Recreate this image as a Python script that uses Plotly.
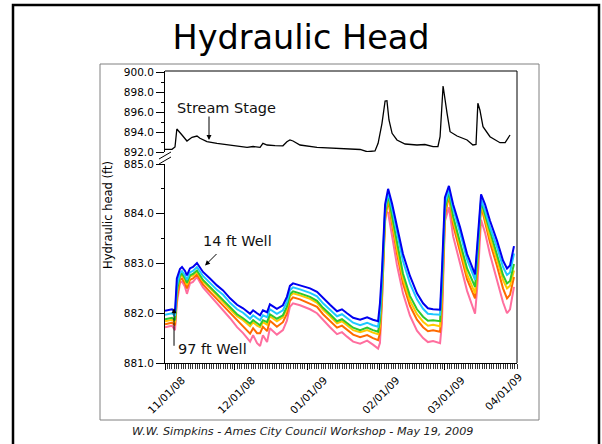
import plotly.graph_objects as go

# ---------------- data ----------------
well_dates = [
    "2008-11-01 00:00", "2008-11-04 00:00", "2008-11-05 07:00", "2008-11-06 02:00", "2008-11-07 10:00",
    "2008-11-08 07:00", "2008-11-09 14:00", "2008-11-10 10:00", "2008-11-11 17:00", "2008-11-13 00:00",
    "2008-11-14 17:00", "2008-11-17 07:00", "2008-11-20 07:00", "2008-11-23 07:00", "2008-11-25 22:00",
    "2008-11-28 22:00", "2008-12-01 22:00", "2008-12-04 12:00", "2008-12-07 12:00", "2008-12-08 19:00",
    "2008-12-10 12:00", "2008-12-11 19:00", "2008-12-13 00:00", "2008-12-14 19:00", "2008-12-16 00:00",
    "2008-12-17 07:00", "2008-12-19 00:00", "2008-12-21 14:00", "2008-12-23 07:00", "2008-12-24 14:00",
    "2008-12-25 22:00", "2008-12-28 22:00", "2009-01-02 05:00", "2009-01-05 05:00", "2009-01-07 19:00",
    "2009-01-10 19:00", "2009-01-13 19:00", "2009-01-15 22:00", "2009-01-18 02:00", "2009-01-20 17:00",
    "2009-01-23 17:00", "2009-01-26 17:00", "2009-01-29 05:00", "2009-01-31 10:00", "2009-02-01 05:00",
    "2009-02-02 02:00", "2009-02-03 10:00", "2009-02-04 17:00", "2009-02-06 10:00", "2009-02-08 12:00",
    "2009-02-11 02:00", "2009-02-14 02:00", "2009-02-17 02:00", "2009-02-19 17:00", "2009-02-21 19:00",
    "2009-02-24 00:00", "2009-02-27 00:00", "2009-02-27 19:00", "2009-03-01 02:00", "2009-03-02 19:00",
    "2009-03-04 14:00", "2009-03-07 14:00", "2009-03-10 14:00", "2009-03-14 00:00", "2009-03-14 22:00",
    "2009-03-16 14:00", "2009-03-18 07:00", "2009-03-20 10:00", "2009-03-23 10:00", "2009-03-26 00:00",
    "2009-03-27 17:00", "2009-03-29 00:00", "2009-03-30 17:00",
]

well_14ft = [
    882.05, 882.08, 882.03, 882.70, 882.89, 882.93, 882.85, 882.76, 882.90, 882.93,
    883.01, 882.83, 882.70, 882.56, 882.46, 882.30, 882.17, 882.10, 881.99, 882.06,
    882.00, 881.96, 882.06, 882.02, 882.18, 882.14, 882.09, 882.16, 882.33, 882.55,
    882.60, 882.56, 882.50, 882.43, 882.30, 882.17, 882.04, 882.08, 882.00, 881.91,
    881.87, 881.92, 881.87, 881.84, 882.20, 882.86, 884.19, 884.50, 884.20, 883.73,
    883.19, 882.75, 882.40, 882.20, 882.10, 882.08, 882.07, 882.86, 884.33, 884.56,
    884.19, 883.73, 883.19, 882.78, 883.40, 884.39, 884.19, 883.86, 883.46, 883.06,
    882.90, 882.96, 883.35,
]
well_cyan = [
    881.97, 882.00, 881.95, 882.55, 882.81, 882.85, 882.76, 882.67, 882.82, 882.85,
    882.93, 882.75, 882.61, 882.47, 882.37, 882.21, 882.08, 882.01, 881.89, 881.96,
    881.90, 881.86, 881.96, 881.92, 882.08, 882.04, 881.99, 882.06, 882.23, 882.46,
    882.52, 882.48, 882.41, 882.34, 882.20, 882.07, 881.94, 881.98, 881.90, 881.81,
    881.76, 881.81, 881.76, 881.73, 882.00, 882.70, 884.10, 884.43, 884.10, 883.60,
    883.05, 882.60, 882.28, 882.09, 881.99, 881.98, 881.97, 882.70, 884.20, 884.50,
    884.10, 883.62, 883.08, 882.67, 883.20, 884.29, 884.07, 883.73, 883.33, 882.93,
    882.77, 882.82, 883.20,
]
well_green = [
    881.88, 881.91, 881.86, 882.45, 882.76, 882.80, 882.70, 882.61, 882.76, 882.79,
    882.86, 882.67, 882.53, 882.39, 882.28, 882.12, 881.98, 881.90, 881.79, 881.86,
    881.80, 881.76, 881.86, 881.82, 881.98, 881.94, 881.89, 881.96, 882.13, 882.38,
    882.44, 882.40, 882.33, 882.25, 882.11, 881.98, 881.84, 881.88, 881.80, 881.71,
    881.66, 881.71, 881.66, 881.63, 881.85, 882.55, 884.00, 884.39, 883.95, 883.40,
    882.80, 882.35, 882.08, 881.93, 881.85, 881.86, 881.84, 882.50, 884.10, 884.44,
    883.95, 883.42, 882.90, 882.53, 883.05, 884.25, 883.98, 883.60, 883.17, 882.77,
    882.60, 882.65, 882.99,
]
well_yellow = [
    881.84, 881.87, 881.82, 882.40, 882.73, 882.77, 882.67, 882.57, 882.73, 882.76,
    882.83, 882.64, 882.50, 882.35, 882.24, 882.08, 881.94, 881.86, 881.74, 881.82,
    881.75, 881.72, 881.82, 881.77, 881.94, 881.90, 881.84, 881.92, 882.09, 882.34,
    882.40, 882.36, 882.29, 882.21, 882.07, 881.94, 881.80, 881.84, 881.76, 881.66,
    881.62, 881.66, 881.61, 881.58, 881.75, 882.45, 883.95, 884.35, 883.88, 883.30,
    882.70, 882.25, 881.98, 881.83, 881.75, 881.77, 881.74, 882.30, 884.05, 884.41,
    883.88, 883.32, 882.78, 882.40, 882.95, 884.22, 883.93, 883.52, 883.08, 882.67,
    882.50, 882.55, 882.86,
]
well_orange = [
    881.78, 881.81, 881.76, 882.30, 882.67, 882.70, 882.60, 882.50, 882.67, 882.70,
    882.78, 882.58, 882.43, 882.28, 882.16, 882.00, 881.85, 881.72, 881.59, 881.70,
    881.60, 881.60, 881.73, 881.64, 881.85, 881.80, 881.73, 881.82, 881.99, 882.25,
    882.32, 882.28, 882.20, 882.13, 881.98, 881.85, 881.71, 881.75, 881.67, 881.57,
    881.52, 881.56, 881.50, 881.46, 881.60, 882.30, 883.85, 884.28, 883.78, 883.20,
    882.60, 882.15, 881.87, 881.72, 881.64, 881.66, 881.63, 882.10, 883.95, 884.36,
    883.78, 883.22, 882.68, 882.30, 882.80, 884.16, 883.85, 883.42, 882.95, 882.50,
    882.30, 882.37, 882.73,
]
well_97ft = [
    881.72, 881.75, 881.66, 882.20, 882.61, 882.64, 882.53, 882.39, 882.60, 882.63,
    882.73, 882.52, 882.36, 882.20, 882.08, 881.90, 881.72, 881.60, 881.43, 881.56,
    881.40, 881.34, 881.56, 881.42, 881.70, 881.64, 881.57, 881.66, 881.85, 882.13,
    882.20, 882.16, 882.08, 882.00, 881.86, 881.72, 881.58, 881.62, 881.53, 881.43,
    881.39, 881.45, 881.37, 881.29, 881.40, 882.20, 884.05, 884.02, 883.55, 882.97,
    882.40, 881.95, 881.65, 881.50, 881.42, 881.44, 881.40, 881.80, 883.85, 884.13,
    883.55, 883.02, 882.45, 881.99, 882.50, 883.88, 883.62, 883.18, 882.68, 882.22,
    882.00, 882.08, 882.53,
]

stream_dates = [
    "2008-11-01 00:00", "2008-11-04 00:00", "2008-11-05 07:00", "2008-11-06 02:00", "2008-11-08 07:00",
    "2008-11-10 10:00", "2008-11-12 14:00", "2008-11-14 17:00", "2008-11-16 00:00", "2008-11-19 00:00",
    "2008-11-23 07:00", "2008-11-30 05:00", "2008-12-03 05:00", "2008-12-06 05:00", "2008-12-08 19:00",
    "2008-12-11 19:00", "2008-12-13 00:00", "2008-12-14 19:00", "2008-12-18 05:00", "2008-12-21 14:00",
    "2008-12-23 07:00", "2008-12-24 14:00", "2008-12-25 22:00", "2008-12-28 22:00", "2009-01-05 05:00",
    "2009-01-12 02:00", "2009-01-19 10:00", "2009-01-23 17:00", "2009-01-26 17:00", "2009-01-30 02:00",
    "2009-01-31 10:00", "2009-02-02 02:00", "2009-02-03 10:00", "2009-02-04 05:00", "2009-02-05 02:00",
    "2009-02-06 10:00", "2009-02-08 12:00", "2009-02-12 00:00", "2009-02-17 02:00", "2009-02-20 12:00",
    "2009-02-24 00:00", "2009-02-26 02:00", "2009-02-27 00:00", "2009-02-28 07:00", "2009-03-02 00:00",
    "2009-03-03 07:00", "2009-03-06 07:00", "2009-03-10 14:00", "2009-03-13 02:00", "2009-03-14 10:00",
    "2009-03-15 05:00", "2009-03-16 02:00", "2009-03-17 10:00", "2009-03-20 10:00", "2009-03-24 17:00",
    "2009-03-26 22:00", "2009-03-29 00:00",
]
stream_stage = [
    892.27, 892.27, 892.50, 894.30, 893.70, 893.10, 893.47, 893.60, 893.37, 893.03,
    892.87, 892.67, 892.60, 892.47, 892.55, 892.47, 892.87, 892.70, 892.63, 892.62,
    893.03, 893.20, 893.10, 892.70, 892.47, 892.37, 892.30, 892.25, 892.03, 892.10,
    892.87, 894.87, 897.10, 897.13, 895.20, 893.87, 893.20, 892.80, 892.70, 892.75,
    892.53, 892.55, 893.53, 898.60, 895.87, 894.03, 893.60, 893.20, 892.70, 892.75,
    896.87, 896.20, 894.53, 893.53, 892.93, 892.95, 893.70,
]

upper_ticks = [892, 894, 896, 898, 900]
lower_ticks = [881, 882, 883, 884, 885]
month_ticks = ["2008-11-01", "2008-12-01", "2009-01-01", "2009-02-01", "2009-03-01"]
month_labels = ["11/01/08", "12/01/08", "01/01/09", "02/01/09", "03/01/09"]
last_label = "04/01/09"

# ---------------- figure ----------------
FONT = "DejaVu Sans"
fig = go.Figure()

wells = [
    ("97 ft Well", well_97ft, "#FF6E9E"),
    ("orange", well_orange, "#FF6A00"),
    ("yellow", well_yellow, "#FFC800"),
    ("green", well_green, "#2DC82D"),
    ("cyan", well_cyan, "#1EC8FF"),
    ("14 ft Well", well_14ft, "#0000F0"),
]
for name, vals, col in wells:
    fig.add_trace(go.Scatter(x=well_dates, y=vals, name=name, mode="lines",
                             line=dict(color=col, width=2.0), xaxis="x", yaxis="y"))

fig.add_trace(go.Scatter(x=stream_dates, y=stream_stage, name="Stream Stage", mode="lines",
                         line=dict(color="black", width=1.3), xaxis="x", yaxis="y2"))

axis_common = dict(showline=True, linecolor="black", linewidth=1, showgrid=False, zeroline=False,
                   ticks="outside", tickcolor="black", tickformat=".1f", anchor="x",
                   tickfont=dict(family=FONT, size=10.5, color="black"), automargin=False)

fig.update_layout(
    width=602, height=444,
    margin=dict(l=165, r=85, t=71, b=81),
    paper_bgcolor="white", plot_bgcolor="white",
    showlegend=False,
    font=dict(family=FONT, color="black"),
    title=dict(text="Hydraulic Head", x=0.5, xanchor="center", y=0.9167, yanchor="middle",
               font=dict(family=FONT, size=33.5, color="black")),
    xaxis=dict(type="date", range=["2008-11-01", "2009-04-01"], anchor="y",
               tickmode="array", tickvals=month_ticks, ticktext=month_labels, tickangle=-45,
               ticks="outside", ticklen=6, tickcolor="black", ticklabelshift=17,
               showline=True, linecolor="black", linewidth=1, showgrid=False, zeroline=False,
               minor=dict(tickmode="linear", tick0="2008-11-01", dtick=86400000, ticks="outside",
                          ticklen=5, tickcolor="#333333", showgrid=False),
               tickfont=dict(family=FONT, size=10.5, color="black"), automargin=False),
    yaxis=dict(domain=[0, 0.6815], range=[881, 885], tickmode="array", tickvals=lower_ticks,
               ticklen=8, minor=dict(dtick=0.5, tick0=881, ticks="outside", ticklen=3, tickcolor="black"),
               **axis_common),
    yaxis2=dict(domain=[0.7226, 1.0], range=[892, 900.1], tickmode="array", tickvals=upper_ticks,
                ticklen=8, minor=dict(dtick=1, tick0=892, ticks="outside", ticklen=3, tickcolor="black"),
                **axis_common),
)

def px_x(p):
    return (p - 165) / 352.0

def px_y(p):
    return (363 - p) / 292.0

shapes = [
    # plot frame top & right
    dict(type="line", xref="paper", yref="paper", x0=0, y0=1, x1=1, y1=1, line=dict(color="black", width=1)),
    dict(type="line", xref="paper", yref="paper", x0=1, y0=0, x1=1, y1=1, line=dict(color="black", width=1)),
    # axis break marks
    dict(type="line", xref="paper", yref="paper", x0=px_x(159), y0=px_y(159), x1=px_x(171), y1=px_y(152),
         line=dict(color="black", width=1)),
    dict(type="line", xref="paper", yref="paper", x0=px_x(159), y0=px_y(164), x1=px_x(171), y1=px_y(157),
         line=dict(color="black", width=1)),
    # chart box (grey)
    dict(type="rect", xref="paper", yref="paper", x0=px_x(100), y0=px_y(420), x1=px_x(539), y1=px_y(64),
         line=dict(color="#808080", width=1)),
    # slide border
    dict(type="rect", xref="paper", yref="paper", x0=px_x(13), y0=px_y(452), x1=px_x(599), y1=px_y(5),
         line=dict(color="black", width=2.5)),
]
fig.update_layout(shapes=shapes)

ann_font = dict(family=FONT, size=14.5, color="#111111")
arrow = dict(showarrow=True, arrowhead=2, arrowsize=1, arrowwidth=1, arrowcolor="black")
annotations = [
    dict(text="Hydraulic head (ft)", xref="paper", yref="paper", x=px_x(108), y=px_y(215),
         xanchor="center", yanchor="middle", textangle=-90, showarrow=False,
         font=dict(family=FONT, size=11.5, color="black")),
    dict(text="<i>W.W. Simpkins - Ames City Council Workshop - May 19, 2009</i>", xref="paper", yref="paper",
         x=px_x(302), y=px_y(431), xanchor="center", yanchor="middle", showarrow=False,
         font=dict(family=FONT, size=11.2, color="#222222")),
    dict(text=last_label, xref="paper", yref="paper", x=px_x(503), y=px_y(392), xanchor="center",
         yanchor="middle", textangle=-45, showarrow=False, font=dict(family=FONT, size=10.5, color="black")),
    # Stream Stage
    dict(text="Stream Stage", xref="x", yref="y2", x="2008-11-27 14:00", y=896.4,
         xanchor="center", yanchor="middle", showarrow=False, font=ann_font),
    dict(text="", xref="x", yref="y2", x="2008-11-19 21:00", y=893.2, ax=0, ay=-25, **arrow),
    # 14 ft Well
    dict(text="14 ft Well", xref="x", yref="y", x="2008-12-01 22:00", y=883.46,
         xanchor="center", yanchor="middle", showarrow=False, font=ann_font),
    dict(text="", xref="x", yref="y", x="2008-11-18 04:00", y=882.96, ax=13, ay=-13, **arrow),
    # 97 ft Well
    dict(text="97 ft Well", xref="x", yref="y", x="2008-11-21 05:00", y=881.28,
         xanchor="center", yanchor="middle", showarrow=False, font=ann_font),
    dict(text="", xref="x", yref="y", x="2008-11-04 21:00", y=882.10, ax=0, ay=39, **arrow),
]
fig.update_layout(annotations=annotations)

fig.write_html(
    "out.html",
    config={"displayModeBar": False},
    post_script="document.body.style.margin='0'; document.body.style.overflow='hidden';",
)
